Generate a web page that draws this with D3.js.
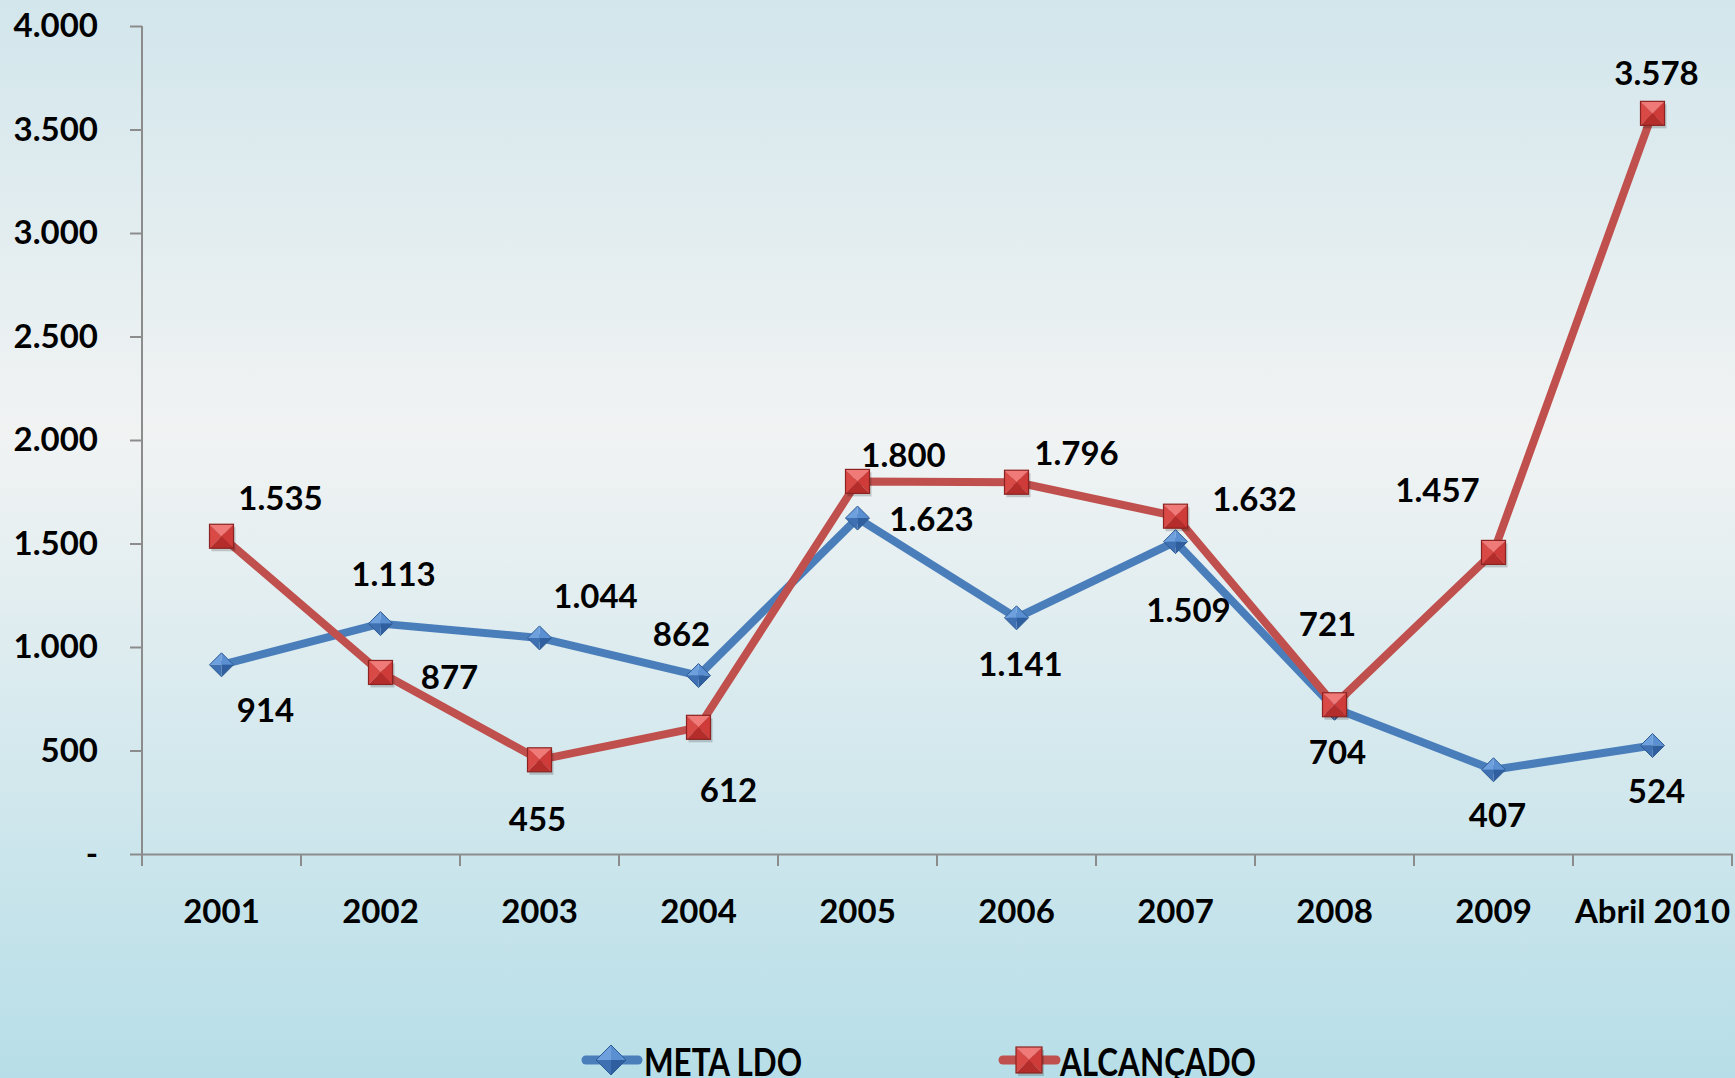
<!DOCTYPE html>
<html>
<head>
<meta charset="utf-8">
<script src="https://cdnjs.cloudflare.com/ajax/libs/d3/7.8.5/d3.min.js"></script>
<style>
  body { margin: 0; overflow: hidden; }
  text { font-family: Lato, "Open Sans", sans-serif; font-weight: 700; fill: #000; }
</style>
</head>
<body>
<svg width="1735" height="1078"></svg>
<script>
// data
var years = ["2001", "2002", "2003", "2004", "2005", "2006", "2007", "2008", "2009", "Abril 2010"];
var metaLdo = [914, 1113, 1044, 862, 1623, 1141, 1509, 704, 407, 524];
var alcancado = [1535, 877, 455, 612, 1800, 1796, 1632, 721, 1457, 3578];
var yTicks = [0, 500, 1000, 1500, 2000, 2500, 3000, 3500, 4000];

// label offsets from each point (px)
var metaOff = [[44,44],[13,-51],[56,-43],[-17,-43],[74,0],[4,45],[13,67],[3,43],[4,44],[4,44]];
var alcOff = [[59,-39],[69,4],[-2,58],[30,62],[46,-27],[60,-30],[79,-18],[-7,-82],[-56,-63],[4,-41]];

var svg = d3.select("svg"),
    width = 1735, height = 1078;

var defs = svg.append("defs");
var bg = defs.append("linearGradient").attr("id", "bg").attr("x1", 0).attr("y1", 0).attr("x2", 0).attr("y2", 1);
bg.append("stop").attr("offset", "0%").attr("stop-color", "#d2e6ec");
bg.append("stop").attr("offset", "40%").attr("stop-color", "#f1f3f3");
bg.append("stop").attr("offset", "100%").attr("stop-color", "#b7dee8");
svg.append("rect").attr("width", width).attr("height", height).attr("fill", "url(#bg)");

var plotL = 142, plotR = 1732, plotT = 26, plotB = 854;

var x = d3.scaleBand().domain(years).range([plotL, plotR]);
var y = d3.scaleLinear().domain([0, 4000]).range([plotB, plotT]);
var fmt = function(v) { return v === 0 ? "-" : d3.format(",")(v).replace(/,/g, "."); };

// axes
var yAxis = svg.append("g").attr("transform", "translate(" + plotL + ",0)")
    .call(d3.axisLeft(y).tickValues(yTicks).tickSize(12).tickPadding(32).tickFormat(fmt).tickSizeOuter(0));
var xAxis = svg.append("g").attr("transform", "translate(0," + plotB + ")")
    .call(d3.axisBottom(x).tickSize(0).tickPadding(46).tickSizeOuter(0));

[yAxis, xAxis].forEach(function(a) {
  a.select(".domain").attr("stroke", "#8c8c8c").attr("stroke-width", 2);
  a.selectAll(".tick line").attr("stroke", "#8c8c8c").attr("stroke-width", 2);
  a.selectAll("text").attr("font-size", 33).attr("font-family", "Lato, sans-serif").attr("font-weight", 700).attr("fill", "#000");
});
yAxis.select(".domain").attr("d", "M0," + plotT + "V" + (plotB + 12));
yAxis.selectAll(".tick line").attr("x2", -12);

// category boundary ticks on x axis
var bounds = d3.range(years.length + 1).map(function(i) { return plotL + i * x.bandwidth(); });
svg.append("g").selectAll("line").data(bounds).enter().append("line")
    .attr("x1", function(d) { return d; }).attr("x2", function(d) { return d; })
    .attr("y1", plotB).attr("y2", plotB + 12)
    .attr("stroke", "#8c8c8c").attr("stroke-width", 2);

var cx = function(d, i) { return x(years[i]) + x.bandwidth() / 2; };

var line = d3.line().x(function(d, i) { return cx(d, i); }).y(function(d) { return y(d); });

var blue = "#4a7ebb", red = "#c0504d";

svg.append("path").datum(metaLdo).attr("d", line)
    .attr("fill", "none").attr("stroke", blue).attr("stroke-width", 8).attr("stroke-linejoin", "round");
svg.append("path").datum(alcancado).attr("d", line)
    .attr("fill", "none").attr("stroke", red).attr("stroke-width", 8).attr("stroke-linejoin", "round");

function diamond(g, px, py, r) {
  var t = [px, py - r], rt = [px + r, py], b = [px, py + r], l = [px - r, py], c = [px, py];
  var faces = [[l, t, c, "#6fa0de"], [t, rt, c, "#5a8fd2"], [rt, b, c, "#2f5f9e"], [b, l, c, "#3e70b2"]];
  faces.forEach(function(f) {
    g.append("path").attr("d", "M" + f[0] + "L" + f[1] + "L" + f[2] + "Z").attr("fill", f[3]);
  });
  g.append("path").attr("d", "M" + t + "L" + rt + "L" + b + "L" + l + "Z")
      .attr("fill", "none").attr("stroke", "#2c5a94").attr("stroke-width", 1);
}

function square(g, px, py, r) {
  var tl = [px - r, py - r], tr = [px + r, py - r], br = [px + r, py + r], bl = [px - r, py + r], c = [px, py];
  g.append("rect").attr("x", px - r + 2).attr("y", py - r + 3).attr("width", 2 * r).attr("height", 2 * r)
      .attr("fill", "#000").attr("opacity", 0.18);
  var faces = [[tl, tr, c, "#f07a78"], [tr, br, c, "#cf3b38"], [br, bl, c, "#b52d2b"], [bl, tl, c, "#d94946"]];
  faces.forEach(function(f) {
    g.append("path").attr("d", "M" + f[0] + "L" + f[1] + "L" + f[2] + "Z").attr("fill", f[3]);
  });
  g.append("rect").attr("x", px - r).attr("y", py - r).attr("width", 2 * r).attr("height", 2 * r)
      .attr("fill", "none").attr("stroke", "#8a2321").attr("stroke-width", 1.2);
}

var mk = svg.append("g");
metaLdo.forEach(function(v, i) { diamond(mk, cx(v, i), y(v), 12); });
alcancado.forEach(function(v, i) { square(mk, cx(v, i), y(v), 12); });

// value labels
var lab = svg.append("g").attr("font-size", 33).attr("text-anchor", "middle").attr("dominant-baseline", "central");
metaLdo.forEach(function(v, i) {
  lab.append("text").attr("x", cx(v, i) + metaOff[i][0]).attr("y", y(v) + metaOff[i][1]).text(fmt(v));
});
alcancado.forEach(function(v, i) {
  lab.append("text").attr("x", cx(v, i) + alcOff[i][0]).attr("y", y(v) + alcOff[i][1]).text(fmt(v));
});

// legend
var lg = svg.append("g");
var ly = 1060;
lg.append("line").attr("x1", 586).attr("x2", 638).attr("y1", ly).attr("y2", ly)
    .attr("stroke", blue).attr("stroke-width", 9).attr("stroke-linecap", "round");
diamond(lg, 611, ly, 15);
lg.append("text").attr("x", 644).attr("y", ly + 1).attr("dominant-baseline", "central")
    .attr("font-size", 38).attr("textLength", 158).attr("lengthAdjust", "spacingAndGlyphs").text("META LDO");
lg.append("line").attr("x1", 1003).attr("x2", 1056).attr("y1", ly).attr("y2", ly)
    .attr("stroke", red).attr("stroke-width", 9).attr("stroke-linecap", "round");
square(lg, 1029, ly, 13);
lg.append("text").attr("x", 1060).attr("y", ly + 1).attr("dominant-baseline", "central")
    .attr("font-size", 38).attr("textLength", 196).attr("lengthAdjust", "spacingAndGlyphs").text("ALCANÇADO");
</script>
</body>
</html>
